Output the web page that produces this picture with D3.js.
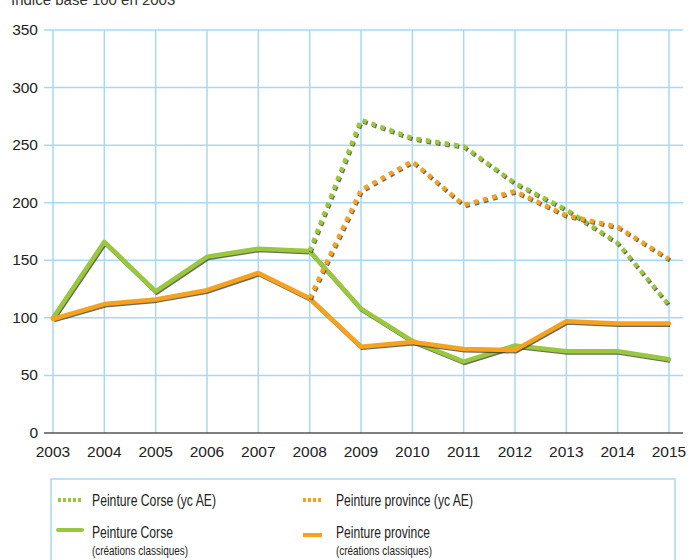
<!DOCTYPE html>
<html>
<head>
<meta charset="utf-8">
<script src="https://cdn.jsdelivr.net/npm/d3@7"></script>
<style>
  html, body { margin: 0; padding: 0; background: #fff; }
  svg { display: block; }
</style>
</head>
<body>
<div id="chart"></div>
<script>
// ── DONNÉES ───────────────────────────────────────────────────────────────
const years = [2003, 2004, 2005, 2006, 2007, 2008, 2009, 2010, 2011, 2012, 2013, 2014, 2015];
const corseClassique    = [100, 166, 123, 153, 160, 158, 108, 80, 62, 76, 71, 71, 64];
const provinceClassique = [99, 112, 116, 124, 139, 117, 75, 79, 73, 72, 97, 95, 95];
const aeYears = [2008, 2009, 2010, 2011, 2012, 2013, 2014, 2015];
const corseAE    = [158, 272, 256, 249, 217, 194, 165, 111];
const provinceAE = [117, 211, 236, 198, 210, 189, 179, 151];
const yTicks = [0, 50, 100, 150, 200, 250, 300, 350];

const W = 690, H = 560;
const GREEN = '#9ac83c', ORANGE = '#f6a21f', GRID = '#a9d8f2';
const FONT = '"Liberation Sans", Arial, Helvetica, sans-serif';

const svg = d3.select('#chart').append('svg').attr('width', W).attr('height', H);

const x = d3.scalePoint().domain(years).range([53, 669]);
const y = d3.scaleLinear().domain([0, 350]).range([433, 30]);

// Titre (coupé en haut, comme l'original)
svg.append('text').attr('x', 11).attr('y', 5)
  .attr('font-family', FONT).attr('font-size', '15px').attr('fill', '#333')
  .text('Indice base 100 en 2003');

// Grille
svg.append('g').selectAll('line').data(yTicks.filter(d => d > 0)).enter().append('line')
  .attr('x1', 44).attr('x2', 683).attr('y1', d => y(d)).attr('y2', d => y(d))
  .attr('stroke', GRID).attr('stroke-width', 1.5);
svg.append('g').selectAll('line').data(years).enter().append('line')
  .attr('x1', d => x(d)).attr('x2', d => x(d)).attr('y1', y(350)).attr('y2', y(0))
  .attr('stroke', GRID).attr('stroke-width', 1.5);

// Axe des abscisses
svg.append('line').attr('x1', 44).attr('x2', 683).attr('y1', y(0)).attr('y2', y(0))
  .attr('stroke', '#555').attr('stroke-width', 1.3);

svg.append('g').selectAll('text').data(yTicks).enter().append('text')
  .attr('x', 38).attr('y', d => y(d) + 5).attr('text-anchor', 'end')
  .attr('font-family', FONT).attr('font-size', '15.5px').attr('fill', '#222').text(d => d);
svg.append('g').selectAll('text').data(years).enter().append('text')
  .attr('x', d => x(d)).attr('y', 457).attr('text-anchor', 'middle')
  .attr('font-family', FONT).attr('font-size', '15.5px').attr('fill', '#222').text(d => d);

// Courbes (avec ombre portée légère)
const line = d3.line().x(d => x(d[0])).y(d => y(d[1]));
function drawSeries(xs, vals, color, dotted) {
  const pts = xs.map((yr, i) => [yr, vals[i]]);
  const g = svg.append('g');
  const dash = dotted ? '4.5,5' : null;
  g.append('path').datum(pts).attr('d', line)
    .attr('transform', 'translate(1,1.3)')
    .attr('fill', 'none').attr('stroke', '#3a3a2a').attr('stroke-opacity', 0.75)
    .attr('stroke-width', 4.3).attr('stroke-dasharray', dash)
    .attr('stroke-linejoin', 'round');
  g.append('path').datum(pts).attr('d', line)
    .attr('fill', 'none').attr('stroke', color)
    .attr('stroke-width', 4.5).attr('stroke-dasharray', dash)
    .attr('stroke-linejoin', 'round').attr('stroke-linecap', dotted ? 'butt' : 'round');
}
drawSeries(years, corseClassique, GREEN, false);
drawSeries(years, provinceClassique, ORANGE, false);
drawSeries(aeYears, corseAE, GREEN, true);
drawSeries(aeYears, provinceAE, ORANGE, true);

// Légende (police condensée simulée via textLength)
svg.append('rect').attr('x', 51).attr('y', 479).attr('width', 624).attr('height', 100)
  .attr('fill', 'none').attr('stroke', GRID).attr('stroke-width', 1.5);

const legend = [
  { label: 'Peinture Corse (yc AE)', color: GREEN, dotted: true, x: 58, len: 25, cy: 500, tx: 92, ty: 506, w: 124 },
  { label: 'Peinture province (yc AE)', color: ORANGE, dotted: true, x: 303, len: 19, cy: 500, tx: 336, ty: 506, w: 137 },
  { label: 'Peinture Corse', sub: '(créations classiques)', color: GREEN, dotted: false, x: 58, len: 24, cy: 530, tx: 92, ty: 538, w: 81 },
  { label: 'Peinture province', sub: '(créations classiques)', color: ORANGE, dotted: false, x: 303, len: 19, cy: 535, tx: 336, ty: 538, w: 94 }
];
legend.forEach(l => {
  svg.append('line').attr('x1', l.x).attr('x2', l.x + l.len).attr('y1', l.cy).attr('y2', l.cy)
    .attr('stroke', l.color).attr('stroke-width', 4)
    .attr('stroke-dasharray', l.dotted ? '3,2' : null)
    .attr('stroke-linecap', (!l.dotted && l.color === GREEN) ? 'round' : 'butt');
  svg.append('text').attr('x', l.tx).attr('y', l.ty)
    .attr('font-family', FONT).attr('font-size', '16.5px').attr('fill', '#222')
    .attr('textLength', l.w).attr('lengthAdjust', 'spacingAndGlyphs').text(l.label);
  if (l.sub) {
    svg.append('text').attr('x', l.tx).attr('y', 555)
      .attr('font-family', FONT).attr('font-size', '13px').attr('fill', '#222')
      .attr('textLength', 96).attr('lengthAdjust', 'spacingAndGlyphs').text(l.sub);
  }
});
</script>
</body>
</html>
